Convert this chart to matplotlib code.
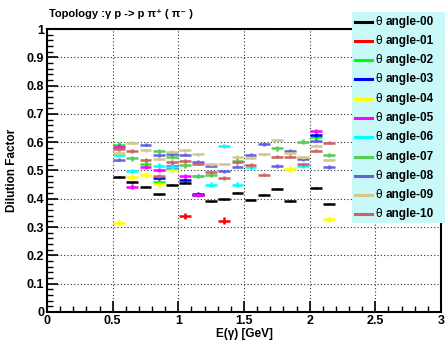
import matplotlib
matplotlib.use("Agg")
import matplotlib.pyplot as plt
import numpy as np
from matplotlib.patches import Rectangle
from matplotlib.lines import Line2D
from matplotlib.ticker import MultipleLocator

plt.rcParams["font.family"] = ["Liberation Sans", "DejaVu Sans"]

nan = np.nan
# energy bins (GeV)
e_bins = [0.55, 0.65, 0.75, 0.85, 0.95, 1.05, 1.15, 1.25, 1.35,
          1.45, 1.55, 1.65, 1.75, 1.85, 1.95, 2.05, 2.15]

# dilution factor per theta-angle bin
df_00 = [0.477, 0.459, 0.442, 0.416, 0.450, 0.457, 0.412, 0.391, 0.398,
         0.422, 0.396, 0.414, 0.436, 0.392, nan, 0.438, 0.383]
df_01 = [nan, nan, nan, nan, nan, 0.339, nan, nan, 0.323,
         nan, nan, nan, nan, nan, nan, nan, nan]
df_02 = [0.591, nan, 0.524, 0.460, nan, nan, nan, nan, nan,
         nan, nan, nan, nan, nan, nan, 0.617, nan]
df_03 = [nan, nan, nan, 0.472, 0.504, 0.468, 0.418, nan, nan,
         nan, nan, nan, nan, nan, nan, 0.625, nan]
df_04 = [0.316, 0.476, 0.483, 0.451, 0.502, nan, nan, nan, nan,
         nan, nan, nan, nan, 0.505, nan, nan, 0.327]
df_05 = [0.584, 0.443, 0.512, 0.501, 0.517, 0.481, 0.413, nan, nan,
         nan, nan, nan, nan, nan, nan, 0.640, nan]
df_06 = [0.556, 0.499, nan, 0.517, 0.514, nan, 0.481, 0.450, 0.587,
         0.450, 0.511, nan, nan, nan, 0.516, nan, nan]
df_07 = [nan, 0.543, nan, 0.568, 0.549, 0.518, 0.481, 0.485, nan,
         0.535, nan, nan, 0.578, nan, 0.602, nan, 0.555]
df_08 = [0.538, nan, 0.591, 0.554, 0.559, 0.556, 0.530, 0.517, 0.497,
         0.514, 0.555, 0.594, 0.516, 0.570, 0.541, 0.605, 0.513]
df_09 = [0.563, 0.598, 0.572, 0.542, 0.566, 0.572, 0.558, 0.522, 0.523,
         0.549, 0.545, 0.557, 0.608, 0.561, 0.547, 0.588, 0.537]
df_10 = [0.576, 0.569, 0.537, 0.481, 0.530, 0.534, 0.524, 0.494, 0.473,
         0.529, 0.519, 0.485, 0.549, 0.549, 0.522, 0.570, 0.598]

series = [df_00, df_01, df_02, df_03, df_04, df_05, df_06, df_07, df_08, df_09, df_10]
y_errs = [0.002, 0.012, 0.008, 0.006, 0.010, 0.008, 0.008, 0.008, 0.006, 0.005, 0.006]
labels = ["angle-%02d" % i for i in range(11)]
colors = ["#000000", "#ff0000", "#00ff00", "#0000ff", "#ffff00", "#ff00ff",
          "#00ffff", "#55cc55", "#6363dd", "#d2c88c", "#cc6464"]

W, H = 445, 343
fig = plt.figure(figsize=(W / 100, H / 100), dpi=100)
ax = fig.add_axes([47 / W, 1 - 312 / H, (441 - 47) / W, (312 - 29) / H])

x = np.array(e_bins)
for vals, err, c in zip(series, y_errs, colors):
    v = np.array(vals)
    m = ~np.isnan(v)
    ax.errorbar(x[m], v[m], xerr=0.045, yerr=err, fmt="none",
                ecolor=c, elinewidth=1.8, capsize=0)

ax.set_xlim(0, 3)
ax.set_ylim(0, 1)
ax.xaxis.set_major_locator(MultipleLocator(0.5))
ax.xaxis.set_minor_locator(MultipleLocator(0.1))
ax.yaxis.set_major_locator(MultipleLocator(0.1))
ax.yaxis.set_minor_locator(MultipleLocator(0.02))
ax.xaxis.set_major_formatter(plt.FuncFormatter(lambda v, p: "%g" % v))
ax.yaxis.set_major_formatter(plt.FuncFormatter(lambda v, p: "%g" % v))
ax.tick_params(which="major", direction="in", length=8, width=1.2,
               labelsize=9, pad=2)
ax.tick_params(which="minor", direction="in", length=4, width=1.0)
for lab in ax.get_xticklabels() + ax.get_yticklabels():
    lab.set_fontweight("bold")
ax.grid(True, which="major", color="#333333", linestyle=(0, (1, 2)), linewidth=0.8)
for sp in ax.spines.values():
    sp.set_linewidth(1.5)

ax.set_xlabel("E(γ) [GeV]", fontsize=8.5, fontweight="bold", labelpad=1)
ax.set_ylabel("Dilution Factor", fontsize=8.5, fontweight="bold", labelpad=4)
ax.yaxis.set_label_coords(-(47 - 18) / (441 - 47), 0.5)

fig.text(49 / W, 1 - 14 / H, "Topology :γ p -> p π⁺ ( π⁻ )", fontsize=8,
         fontweight="bold", va="center", ha="left")

# legend box
fig.patches.append(Rectangle((352 / W, 1 - 223 / H), (W - 352) / W, 211 / H,
                             transform=fig.transFigure, facecolor="#c8f8f8",
                             edgecolor="none", zorder=5))
for i, (lab, c) in enumerate(zip(labels, colors)):
    yy = 1 - (21.7 + i * 19.26) / H
    fig.lines.append(Line2D([355 / W, 372 / W], [yy, yy], color=c, linewidth=2.2,
                            transform=fig.transFigure, zorder=6))
    fig.text(375 / W, yy, "θ", fontsize=8.5, va="center", ha="left", zorder=7)
    fig.text(386 / W, yy, lab, fontsize=8.5, fontweight="bold",
             va="center", ha="left", zorder=7)

fig.savefig("out.png", dpi=100)
